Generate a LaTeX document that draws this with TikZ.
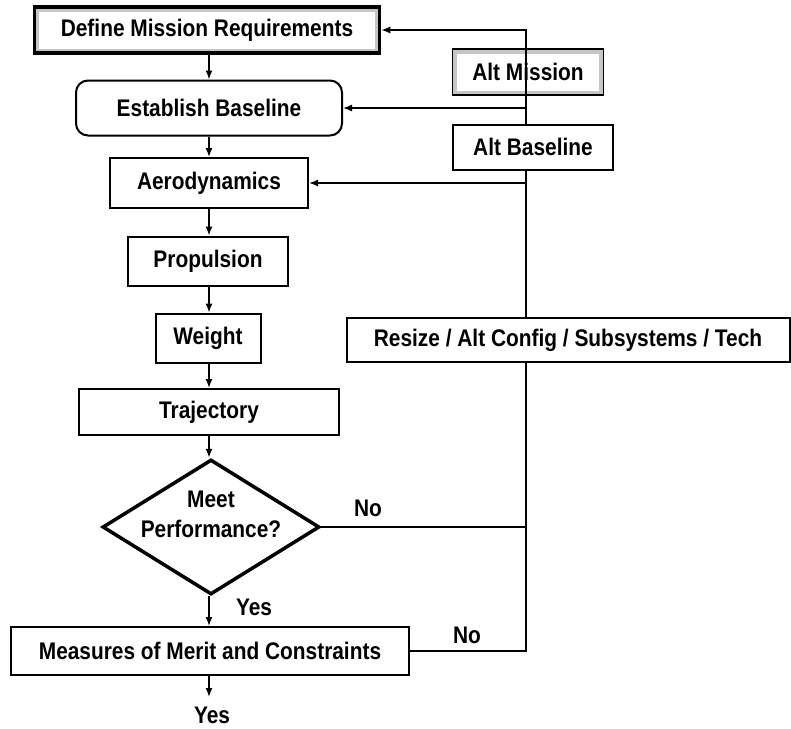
\documentclass[tikz,border=0pt]{standalone}
\usepackage{fontspec}
\setmainfont{Liberation Sans}[FakeStretch=0.87]
\usetikzlibrary{arrows.meta,shapes.geometric}

\begin{document}
\begin{tikzpicture}[x=1pt, y=-1pt,
    box/.style={draw, line width=2pt, fill=white, inner sep=0pt,
        font=\fontsize{24}{30}\selectfont\bfseries},
    shadebox/.style={box, path picture={\draw[gray!45, line width=9pt]
        (path picture bounding box.south west) rectangle (path picture bounding box.north east);}},
    lbl/.style={font=\fontsize{24}{30}\selectfont\bfseries},
    arr/.style={-{Latex[length=9pt,width=7pt]}, line width=1.4pt},
    link/.style={line width=1.4pt}]
    \useasboundingbox (0,0) rectangle (791,728);

    % Main chain
    \node[shadebox, line width=3.5pt, minimum width=345pt, minimum height=46pt] (define) at (207,30) {Define Mission Requirements};
    \node[box, rounded corners=12pt, minimum width=266pt, minimum height=55pt] (establish) at (209,108) {Establish Baseline};
    \node[box, minimum width=198pt, minimum height=50pt] (aero) at (209,183) {Aerodynamics};
    \node[box, minimum width=160pt, minimum height=49pt] (prop) at (208,261) {Propulsion};
    \node[box, minimum width=105pt, minimum height=49pt] (weight) at (208,338) {Weight};
    \node[box, minimum width=260pt, minimum height=46pt] (traj) at (209,412) {Trajectory};
    \node[draw, diamond, line width=3.5pt, inner sep=0pt, minimum width=217pt, minimum height=135pt] (perf) at (211,527) {};
    \node[lbl, align=center] (perftext) at (211,514) {Meet\\Performance?};
    \node[box, minimum width=398pt, minimum height=48pt] (merit) at (210,651) {Measures of Merit and Constraints};

    % Loop-back options
    \node[shadebox, line width=1.6pt, minimum width=151pt, minimum height=46pt] (altmis) at (528,72) {Alt Mission};
    \node[box, minimum width=160pt, minimum height=45pt] (altbase) at (533,147) {Alt Baseline};
    \node[box, minimum width=443pt, minimum height=44pt] (resize) at (568,340) {Resize / Alt Config / Subsystems / Tech};

    % Decision labels
    \node[lbl] (no1) at (368,508) {No};
    \node[lbl] (yes1) at (254,607) {Yes};
    \node[lbl] (no2) at (467,635) {No};
    \node[lbl] (yes2) at (212,715) {Yes};

    \coordinate (trunk) at (526,0);
    \coordinate (out) at (209,697);

    % Downward flow
    \draw[arr] (define.south -| establish) -- (establish.north);
    \foreach \a/\b in {establish/aero, aero/prop, prop/weight, weight/traj, traj/perf, perf/merit}
        \draw[arr] (\a.south -| establish) -- (\b.north -| establish);
    \draw[arr] (merit.south -| out) -- (out);

    % Feedback loop
    \draw[link] (merit.east) -| (resize.south -| trunk);
    \draw[link] (perf.east) -- (perf.east -| trunk);
    \draw[link] (resize.north -| trunk) -- (altbase.south -| trunk);
    \draw[arr] (altbase.north -| trunk) |- (define.east);
    \draw[arr] (establish.east -| trunk) -- (establish.east);
    \draw[arr] (aero.east -| trunk) -- (aero.east);
\end{tikzpicture}
\end{document}
